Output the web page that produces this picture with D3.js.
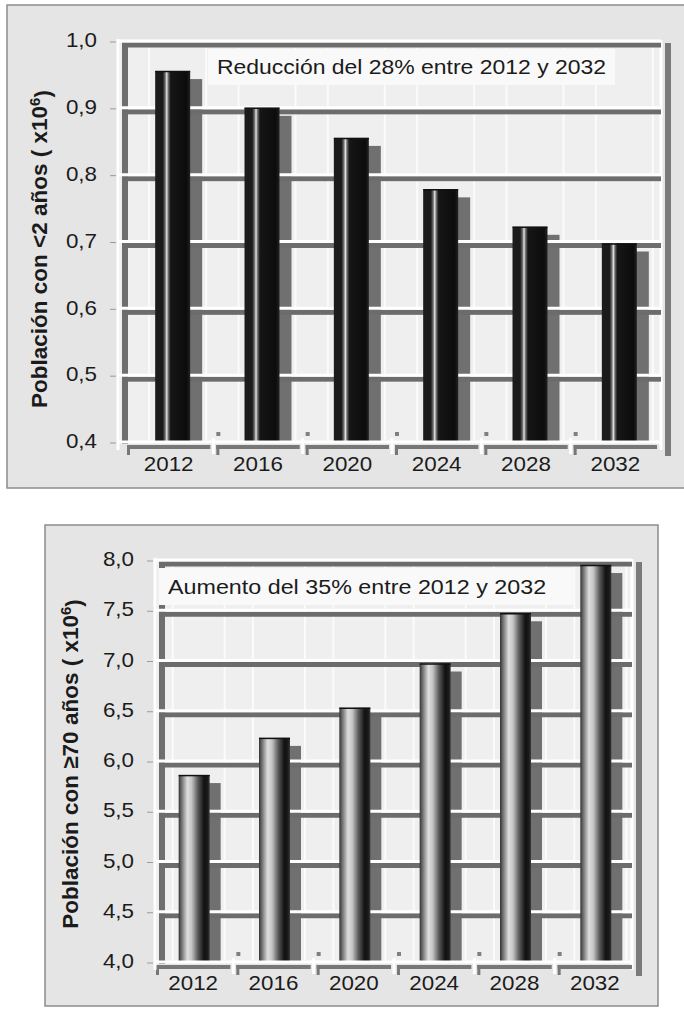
<!DOCTYPE html>
<html>
<head>
<meta charset="utf-8">
<script src="https://cdn.jsdelivr.net/npm/d3@7"></script>
<style>
  body { margin: 0; background: #ffffff; }
  svg { display: block; }
</style>
</head>
<body>
<div id="chart"></div>
<script>
/* Population projections, 3D-style bar charts */

const years = ['2012', '2016', '2020', '2024', '2028', '2032'];
const under2 = [0.955, 0.900, 0.855, 0.778, 0.722, 0.697];
const over70 = [5.86, 6.23, 6.53, 6.97, 7.47, 7.95];
const ticksUnder2 = [0.4, 0.5, 0.6, 0.7, 0.8, 0.9, 1.0];
const ticksOver70 = [4.0, 4.5, 5.0, 5.5, 6.0, 6.5, 7.0, 7.5, 8.0];
const noteUnder2 = 'Reducción del 28% entre 2012 y 2032';
const noteOver70 = 'Aumento del 35% entre 2012 y 2032';
const yTitleUnder2 = 'Población con <2 años ( x10';
const yTitleOver70 = 'Población con ≥70 años ( x10';

const W = 684, H = 1009;
const FONT = "'Liberation Sans', Arial, Helvetica, sans-serif";
const SX = 1.12; // the source picture is a bit wider than tall

const svg = d3.select('#chart').append('svg')
  .attr('width', W).attr('height', H)
  .attr('viewBox', `0 0 ${W} ${H}`);

const defs = svg.append('defs');

function gradient(id, stops) {
  const g = defs.append('linearGradient')
    .attr('id', id)
    .attr('x1', '0%').attr('x2', '100%')
    .attr('y1', '0%').attr('y2', '0%');
  stops.forEach(([o, c]) => g.append('stop').attr('offset', o).attr('stop-color', c));
}

gradient('barDark', [
  [0, '#1c1c1c'], [0.22, '#1a1a1a'], [0.29, '#777'], [0.33, '#e6e6e6'],
  [0.37, '#777'], [0.44, '#161616'], [0.9, '#0c0c0c'], [1, '#222'],
]);
gradient('barMetal', [
  [0, '#333'], [0.08, '#666'], [0.28, '#dedede'], [0.42, '#c4c4c4'],
  [0.62, '#5a5a5a'], [0.82, '#111'], [0.93, '#1a1a1a'], [1, '#3a3a3a'],
]);

const fmt = v => d3.format('.1f')(v).replace('.', ',');

function stretched(parent, x, y) {
  return parent.append('text')
    .attr('transform', `translate(${x},${y}) scale(${SX},1)`)
    .attr('font-family', FONT)
    .attr('fill', '#1b1b1b');
}

function drawChart(o) {
  const g = svg.append('g');

  // outer panel
  g.append('rect')
    .attr('x', o.box[0]).attr('y', o.box[1])
    .attr('width', o.box[2]).attr('height', o.box[3])
    .attr('fill', '#e5e5e5')
    .attr('stroke', '#8c8c8c').attr('stroke-width', 1.5);

  const y = d3.scaleLinear().domain(o.domain).range([o.yBot, o.yTop]);
  const x = d3.scaleBand().domain(years).range(o.band);
  const bw = o.barW;
  const barX = d => x(d) + x.bandwidth() / 2 - bw / 2 + o.barOff;

  // back wall
  g.append('rect')
    .attr('x', o.x0 + 2).attr('y', o.yTop)
    .attr('width', o.x1 - o.x0 - 2).attr('height', o.yBot - o.yTop)
    .attr('fill', '#efefef');

  // light pane borders next to each bar
  years.forEach(d => {
    [barX(d) - 6, barX(d) + bw + o.shadow[0] + 4].forEach(px => {
      g.append('line')
        .attr('x1', px).attr('x2', px)
        .attr('y1', o.yTop + 6).attr('y2', o.yBot - 2)
        .attr('stroke', '#fbfbfb').attr('stroke-width', 2);
    });
  });

  // bar shadows on the wall
  const vals = o.values;
  years.forEach((d, i) => {
    const top = y(vals[i]) + o.shadow[1];
    g.append('rect')
      .attr('x', barX(d) + o.shadow[0]).attr('y', top)
      .attr('width', bw).attr('height', o.yBot - top)
      .attr('fill', '#707070');
  });

  // left and right wall edges
  g.append('rect')
    .attr('x', o.x0 + 4).attr('y', o.yTop + 2)
    .attr('width', 6).attr('height', o.yBot - o.yTop)
    .attr('fill', '#6e6e6e');
  g.append('rect')
    .attr('x', o.x1 + 4).attr('y', o.yTop + 2)
    .attr('width', 6).attr('height', o.yBot - o.yTop + 12)
    .attr('fill', '#7a7a7a');
  g.append('line')
    .attr('x1', o.x1).attr('x2', o.x1)
    .attr('y1', o.yTop - 1).attr('y2', o.yBot + 8)
    .attr('stroke', '#ffffff').attr('stroke-width', 3);

  // gridlines: dark shelf + white edge
  o.ticks.forEach(t => {
    if (t === o.domain[0]) return;
    g.append('rect')
      .attr('x', o.x0 + 4).attr('y', y(t) + 1.5)
      .attr('width', o.x1 - o.x0 - 4).attr('height', 5)
      .attr('fill', '#6c6c6c');
    g.append('line')
      .attr('x1', o.x0).attr('x2', o.x1)
      .attr('y1', y(t)).attr('y2', y(t))
      .attr('stroke', '#ffffff').attr('stroke-width', 3);
  });

  // bars
  years.forEach((d, i) => {
    g.append('rect')
      .attr('x', barX(d)).attr('y', y(vals[i]))
      .attr('width', bw).attr('height', o.yBot - y(vals[i]))
      .attr('fill', `url(#${o.grad})`);
    g.append('line')
      .attr('x1', barX(d)).attr('x2', barX(d) + bw)
      .attr('y1', y(vals[i]) + 0.5).attr('y2', y(vals[i]) + 0.5)
      .attr('stroke', '#111').attr('stroke-width', 1.5);
  });

  // floor
  g.append('line')
    .attr('x1', o.x0).attr('x2', o.x1)
    .attr('y1', o.yBot).attr('y2', o.yBot)
    .attr('stroke', '#ffffff').attr('stroke-width', 3);
  years.forEach(d => {
    const a = x(d) + 3, b = x(d) + x.bandwidth() - 3;
    g.append('rect')
      .attr('x', a).attr('y', o.yBot + 3)
      .attr('width', b - a).attr('height', 4)
      .attr('fill', '#777');
    g.append('rect')
      .attr('x', a).attr('y', o.yBot + 3)
      .attr('width', 3).attr('height', 10)
      .attr('fill', '#777');
  });
  years.slice(1).forEach(d => {
    g.append('line')
      .attr('x1', x(d)).attr('x2', x(d))
      .attr('y1', o.yBot - 4).attr('y2', o.yBot + 12)
      .attr('stroke', '#ffffff').attr('stroke-width', 3);
    g.append('rect')
      .attr('x', x(d) + 3).attr('y', o.yBot - 10)
      .attr('width', 4).attr('height', 4)
      .attr('fill', '#808080');
  });

  // left axis line + ticks
  g.append('line')
    .attr('x1', o.x0).attr('x2', o.x0)
    .attr('y1', o.yTop - 2).attr('y2', o.yBot + 8)
    .attr('stroke', '#ffffff').attr('stroke-width', 3);
  o.ticks.forEach(t => {
    g.append('line')
      .attr('x1', o.x0 - 8).attr('x2', o.x0 - 2)
      .attr('y1', y(t) + 1).attr('y2', y(t) + 1)
      .attr('stroke', '#9a9a9a').attr('stroke-width', 1);
    stretched(g, o.x0 - 21, y(t) - 1)
      .attr('text-anchor', 'end')
      .attr('dy', '0.36em')
      .attr('font-size', '20px')
      .text(fmt(t));
  });

  // category labels
  years.forEach(d => {
    stretched(g, x(d) + x.bandwidth() / 2, o.labelY)
      .attr('text-anchor', 'middle')
      .attr('font-size', '20px')
      .text(d);
  });

  // note box
  g.append('rect')
    .attr('x', o.noteBox[0]).attr('y', o.noteBox[1])
    .attr('width', o.noteBox[2]).attr('height', o.noteBox[3])
    .attr('fill', '#f9f9f9');
  stretched(g, o.noteXY[0], o.noteXY[1])
    .attr('font-size', o.noteSize + 'px')
    .text(o.note);

  // y-axis title
  const yt = g.append('text')
    .attr('transform', `translate(${o.yTitleXY[0]},${o.yTitleXY[1]}) rotate(-90)`)
    .attr('text-anchor', 'middle')
    .attr('font-family', FONT)
    .attr('font-weight', 'bold')
    .attr('font-size', '22.5px')
    .attr('fill', '#1b1b1b');
  yt.append('tspan').text(o.yTitle);
  yt.append('tspan').attr('dy', '-0.45em').attr('font-size', '15px').text('6');
  yt.append('tspan').attr('dy', '0.45em').text(')');
}

drawChart({
  box: [7, 5, 690, 483],
  x0: 118, x1: 661,
  yTop: 41, yBot: 442,
  domain: [0.4, 1.0],
  ticks: ticksUnder2,
  values: under2,
  band: [124, 660],
  barW: 35, barOff: 4,
  shadow: [12, 8],
  grad: 'barDark',
  labelY: 471,
  noteBox: [208, 49, 407, 36],
  noteXY: [217, 74],
  noteSize: 20.5,
  note: noteUnder2,
  yTitle: yTitleUnder2,
  yTitleXY: [47, 249],
});

drawChart({
  box: [45, 525, 613, 481],
  x0: 155, x1: 632,
  yTop: 560, yBot: 962,
  domain: [4.0, 8.0],
  ticks: ticksOver70,
  values: over70,
  band: [153, 635],
  barW: 31, barOff: 1,
  shadow: [11, 8],
  grad: 'barMetal',
  labelY: 990,
  noteBox: [159, 568, 414, 37],
  noteXY: [168, 594],
  noteSize: 20.8,
  note: noteOver70,
  yTitle: yTitleOver70,
  yTitleXY: [78, 764],
});
</script>
</body>
</html>
